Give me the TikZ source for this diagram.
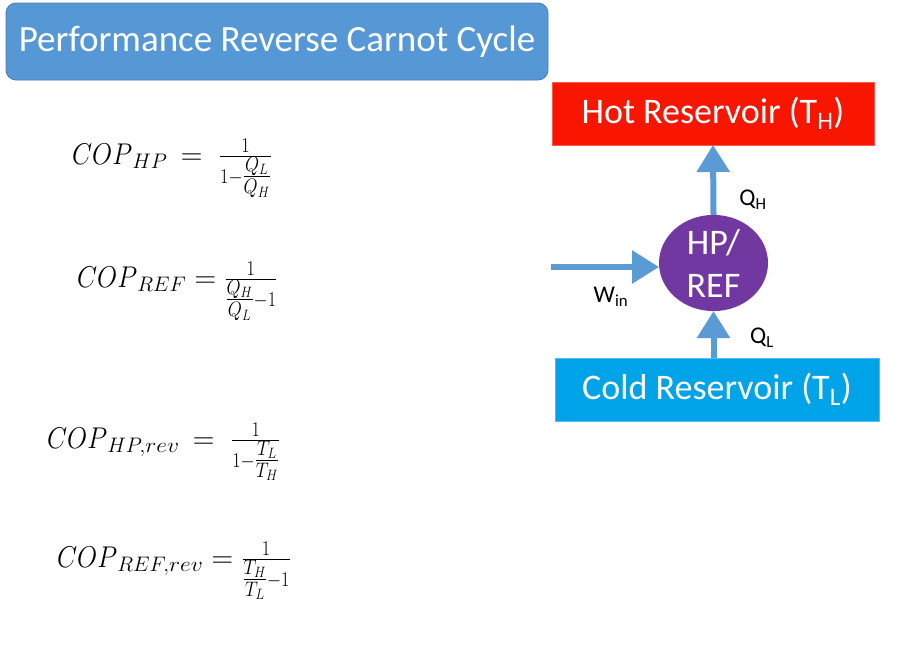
\documentclass[tikz,border=0pt]{standalone}
\usepackage{fix-cm}
\usepackage[no-math]{fontspec}
\setmainfont{Carlito}
\usetikzlibrary{arrows.meta,shapes.geometric}
\definecolor{titleblue}{RGB}{86,152,213}
\definecolor{titleedge}{RGB}{70,125,180}
\definecolor{hotred}{RGB}{248,22,0}
\definecolor{coldblue}{RGB}{0,162,232}
\definecolor{hppurple}{RGB}{112,56,160}
\definecolor{arrowblue}{RGB}{91,155,213}
\tikzset{
  flow/.style={draw=arrowblue, line width=6pt, -{Triangle[width=32pt,length=27pt]}},
  reservoir/.style={anchor=north west, minimum height=63pt, outer sep=0pt, text=white, font=\fontsize{36}{40}\selectfont},
  lab/.style={font=\fontsize{24}{28}\selectfont, text=black},
  eq/.style={anchor=base west, inner sep=0pt, font=\fontsize{30}{36}\selectfont}
}
\newcommand{\tfr}[2]{{\textstyle\frac{#1}{#2}}}
\newcommand{\sx}[1]{\scalebox{0.865}[1]{$#1$}}
\newcommand{\rv}{\scalebox{1.12}[1]{$\scriptstyle rev$}}
\begin{document}
\begin{tikzpicture}[x=1pt,y=-1pt]
\useasboundingbox (0,0) rectangle (901,664);
\fill[white] (0,0) rectangle (901,664);
\node[draw=titleedge, fill=titleblue, rounded corners=10pt, minimum width=542pt, minimum height=77pt, anchor=north west, outer sep=0pt, line width=0.8pt, text=white, font=\fontsize{37}{40}\selectfont] (title) at (6,3) {Performance Reverse Carnot Cycle};

\node[reservoir, fill=hotred, draw=hotred!70!white, minimum width=322pt] (hot) at (552,82) {Hot Reservoir (T\textsubscript{H})};
\node[reservoir, fill=coldblue, draw=coldblue!70!white, minimum width=324pt] (cold) at (555,358) {Cold Reservoir (T\textsubscript{L})};
\node[ellipse, fill=hppurple, minimum width=109pt, minimum height=96pt, inner sep=0pt, outer sep=0pt, text=white, align=center, font=\fontsize{36}{43}\selectfont] (hp) at (713.5,263) {HP/\\REF};

\coordinate (win) at (551,267);
\draw[flow] (hp.north) -- (hot.south);
\draw[flow] (hp.south |- cold.north) -- (hp.south);
\draw[flow] (win) -- (win -| hp.west);

\node[lab] (qh) at (753,200) {Q\textsubscript{H}};
\node[lab] (ql) at (762,338) {Q\textsubscript{L}};
\node[lab] (wi) at (611,297) {W\textsubscript{in}};

\node[eq] (e1) at (72,164) {$\sx{COP}_{HP} \,=\; \sx{\frac{1}{1-\tfr{Q_L}{Q_H}}}$};
\node[eq] (e2) at (77,287) {$\sx{COP}_{REF} = \sx{\frac{1}{\tfr{Q_H}{Q_L}-1}}$};
\node[eq] (e3) at (47,448) {$\sx{COP}_{HP,\rv} \,=\; \sx{\frac{1}{1-\tfr{T_L}{T_H}}}$};
\node[eq] (e4) at (57,567) {$\sx{COP}_{REF,\rv} = \sx{\frac{1}{\tfr{T_H}{T_L}-1}}$};
\end{tikzpicture}
\end{document}
